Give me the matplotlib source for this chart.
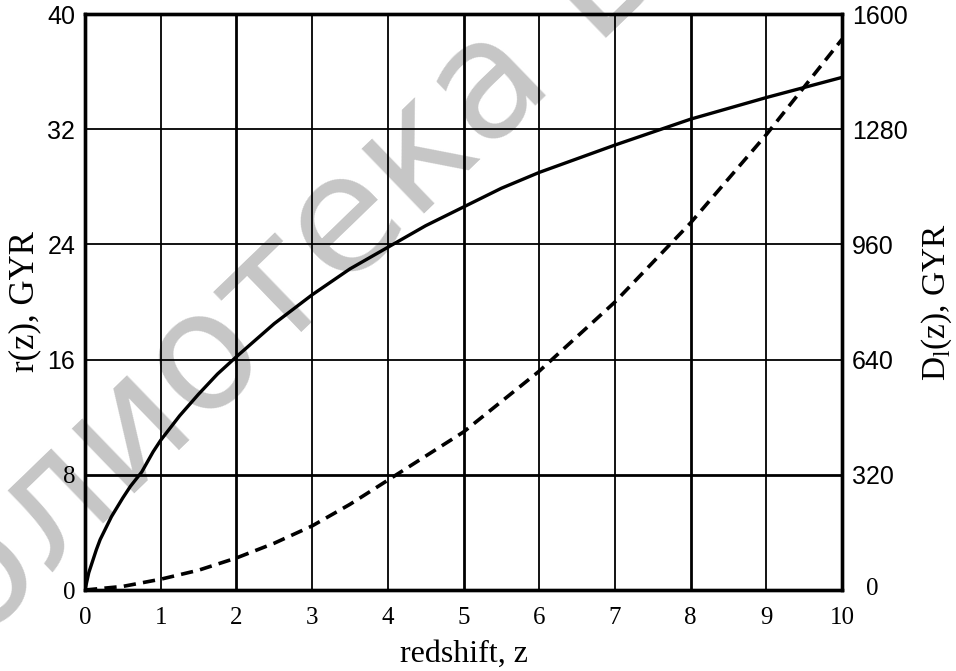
import numpy as np
import matplotlib
matplotlib.use("Agg")
import matplotlib.pyplot as plt

# values
z_r = [0, 0.05, 0.1, 0.15, 0.2, 0.35, 0.5, 0.6, 0.75, 0.9, 1, 1.25, 1.5, 1.75,
       2, 2.5, 3, 3.5, 4, 4.5, 5, 5.5, 6, 7, 8, 9, 10]
r_z = [0, 1.2, 2.0, 2.8, 3.5, 5.1, 6.4, 7.2, 8.2, 9.6, 10.4, 12.1, 13.6, 15.0,
       16.2, 18.5, 20.5, 22.3, 23.8, 25.3, 26.6, 27.9, 29.0, 30.9, 32.7, 34.2,
       35.6]

z_d = [0, 0.5, 1, 1.5, 2, 2.5, 3, 3.5, 4, 5, 6, 7, 8, 9, 10]
d_z = [0, 10, 30, 55, 89, 130, 178, 238, 305, 439, 608, 800, 1020, 1265, 1530]

xticks = list(range(0, 11))
yticks_left = [0, 8, 16, 24, 32, 40]
yticks_right = [0, 320, 640, 960, 1280, 1600]

serif = "Liberation Serif"
sans = "Liberation Sans"
plt.rcParams['mathtext.fontset'] = 'custom'
plt.rcParams['mathtext.rm'] = serif

fig = plt.figure(figsize=(9.56, 6.71), dpi=100)

# watermark behind everything
fig.text(-0.19, -0.19, "Библиотека БГУИР", rotation=44, rotation_mode='anchor',
         fontsize=118, color='#c6c6c6', family='DejaVu Sans', zorder=-5,
         ha='left', va='baseline')

ax = fig.add_axes([0.0889, 0.1207, 0.7919, 0.8584])
ax.set_facecolor('none')
ax.set_xlim(0, 10)
ax.set_ylim(0, 40)

# grid: some lines are heavier
for x in xticks[1:-1]:
    lw = 2.0 if x in (2, 5, 8) else 1.3
    ax.axvline(x, color='black', lw=lw, zorder=1)
for y in yticks_left[1:-1]:
    lw = 2.0 if y == 8 else 1.3
    ax.axhline(y, color='black', lw=lw, zorder=1)

ax.plot(z_r, r_z, color='black', lw=2.4, zorder=3)

ax2 = ax.twinx()
ax2.set_ylim(0, 1600)
ax2.plot(z_d, d_z, color='black', lw=2.6, linestyle=(0, (3.4, 2.0)), zorder=3)

for a in (ax, ax2):
    for s in a.spines.values():
        s.set_linewidth(2.4)
    a.tick_params(length=0)

ax.set_xticks(xticks)
ax.set_xticklabels([str(v) for v in xticks], fontsize=18, family=serif)
ax.tick_params(axis='x', pad=12)

ax.set_yticks(yticks_left)
ax.set_yticklabels([str(v) for v in yticks_left], fontsize=18)
for lab, v in zip(ax.get_yticklabels(), yticks_left):
    lab.set_family(serif if v in (0, 8) else sans)
ax.tick_params(axis='y', pad=7)

ax2.set_yticks(yticks_right)
ax2.set_yticklabels([str(v) if v else '' for v in yticks_right], fontsize=18,
                    family=sans)
ax2.tick_params(axis='y', pad=7)
ax2.annotate('0', xy=(1, 0), xycoords=('axes fraction', 'data'),
             xytext=(17, 1), textcoords='offset points', fontsize=18,
             family=serif, ha='left', va='center', annotation_clip=False)

ax.set_xlabel("redshift, z", fontsize=23, family=serif, labelpad=8)
ax.set_ylabel("r(z), GYR", fontsize=25, family=serif, labelpad=4)
ax2.set_ylabel(r"D$_\mathrm{l}$(z), GYR", fontsize=24, family=serif, labelpad=9)

fig.savefig("out.png", dpi=100)
